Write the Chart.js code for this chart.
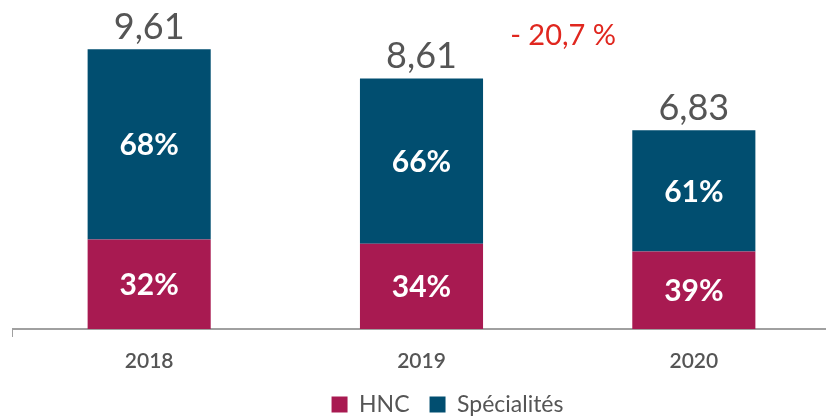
<!DOCTYPE html>
<html lang="fr">
<head>
<meta charset="utf-8">
<title>HNC / Spécialités</title>
<script src="https://cdn.jsdelivr.net/npm/chart.js@4/dist/chart.umd.min.js"></script>
<style>
  html, body { margin: 0; padding: 0; background: #fff; overflow: hidden; }
  .wrap { position: relative; width: 830px; height: 419px; }
</style>
</head>
<body>
<div class="wrap"><canvas id="hncChart"></canvas></div>
<script>
// --- donnees ---
const annees = ['2018', '2019', '2020'];
const totaux = [9.61, 8.61, 6.83];
const partHNC = [32, 34, 39];
const partSpecialites = [68, 66, 61];
const evolution = '- 20,7 %';

const couleurHNC = '#a81a51';
const couleurSpec = '#014e70';
const gris = '#555555';

const valeursHNC = totaux.map((t, i) => t * partHNC[i] / 100);
const valeursSpec = totaux.map((t, i) => t * partSpecialites[i] / 100);

const fmt = v => v.toFixed(2).replace('.', ',');

// etiquettes : % dans les barres, total au-dessus, evolution en rouge
const etiquettes = {
    id: 'etiquettes',
    afterLayout(chart) {
        // la legende est un peu decalee a droite dans l'original
        chart.legend.left += 26;
        chart.legend.right += 26;
    },
    afterDatasetsDraw(chart) {
        const c = chart.ctx;
        const x = chart.scales.x;
        const y = chart.scales.y;
        c.save();
        c.textAlign = 'center';
        c.textBaseline = 'middle';

        const parts = [partHNC, partSpecialites];
        chart.data.datasets.forEach((ds, d) => {
            const meta = chart.getDatasetMeta(d);
            c.fillStyle = '#ffffff';
            c.font = 'bold 30px Lato';
            meta.data.forEach((bar, i) => {
                c.fillText(parts[d][i] + '%', bar.x, (bar.y + bar.base) / 2 + 1);
            });
        });

        c.fillStyle = gris;
        c.font = '36px Lato';
        totaux.forEach((t, i) => {
            c.fillText(fmt(t), x.getPixelForValue(i), y.getPixelForValue(t) - 22);
        });

        c.fillStyle = '#e0271f';
        c.font = '29px Lato';
        c.fillText(evolution, x.getPixelForValue(1.52), y.getPixelForValue(10.07));
        c.restore();
    }
};

const ctx = document.getElementById('hncChart');
new Chart(ctx, {
    type: 'bar',
    data: {
        labels: annees,
        datasets: [
            { label: 'HNC', data: valeursHNC, backgroundColor: couleurHNC },
            { label: 'Spécialités', data: valeursSpec, backgroundColor: couleurSpec }
        ]
    },
    options: {
        responsive: true,
        maintainAspectRatio: false,
        animation: false,
        barPercentage: 0.452,
        categoryPercentage: 1,
        layout: { padding: { top: 38, left: 13, right: 0, bottom: -7 } },
        scales: {
            x: {
                stacked: true,
                grid: {
                    drawOnChartArea: false,
                    tickLength: 8,
                    color: c => c.index === 0 ? '#a0a0a0' : 'rgba(0,0,0,0)'
                },
                border: { color: '#a0a0a0', width: 2 },
                ticks: {
                    color: gris,
                    font: { family: 'Lato', size: 21, weight: '600' },
                    padding: 12
                },
                afterFit: s => { s.height = 44; }
            },
            y: {
                stacked: true,
                display: false,
                min: 0,
                max: 10
            }
        },
        plugins: {
            legend: {
                position: 'bottom',
                labels: {
                    boxWidth: 16,
                    boxHeight: 16,
                    padding: 20,
                    color: gris,
                    font: { family: 'Lato', size: 23 }
                }
            },
            tooltip: { enabled: false }
        }
    },
    plugins: [etiquettes]
});
</script>
</body>
</html>
